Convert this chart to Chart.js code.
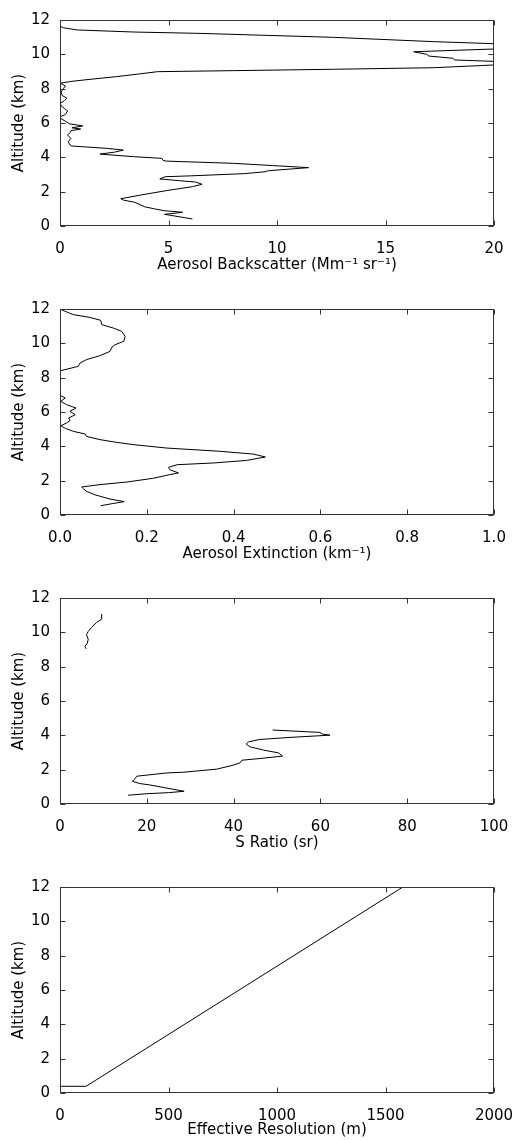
<!DOCTYPE html>
<html>
<head>
<meta charset="utf-8">
<script src="https://cdn.jsdelivr.net/npm/chart.js@4.4.1/dist/chart.umd.min.js"></script>
<style>
  html, body { margin: 0; padding: 0; background: #fff; overflow: hidden; }
  canvas { display: block; }
</style>
</head>
<body>
<canvas id="chart1" width="515" height="289"></canvas>
<canvas id="chart2" width="515" height="289"></canvas>
<canvas id="chart3" width="515" height="289"></canvas>
<canvas id="chart4" width="515" height="273"></canvas>
<script>
// Datos (altitud en km)
const bscAlt = [0.41, 0.68, 0.80, 0.89, 1.00, 1.12, 1.38, 1.51, 1.59, 1.80, 2.06, 2.29, 2.43, 2.56, 2.64, 2.74, 2.87, 2.92, 3.05, 3.16, 3.22, 3.40, 3.52, 3.65, 3.78, 3.82, 3.94, 4.04, 4.19, 4.30, 4.42, 4.52, 4.66, 4.72, 4.91, 5.10, 5.30, 5.44, 5.55, 5.65, 5.72, 5.83, 5.95, 6.10, 6.25, 6.35, 6.50, 6.70, 6.85, 7.00, 7.15, 7.30, 7.45, 7.60, 7.80, 8.00, 8.15, 8.32, 8.42, 8.52, 8.70, 8.85, 8.99, 9.05, 9.13, 9.22, 9.38, 9.48, 9.59, 9.67, 9.77, 9.90, 10.00, 10.15, 10.31, 10.45, 10.62, 10.74, 10.99, 11.22, 11.30, 11.42, 11.55, 11.65, 12.0];
const bscVal = [6.1, 4.82, 5.65, 4.8, 4.35, 3.9, 3.45, 2.92, 2.8, 3.7, 4.9, 6.1, 6.55, 6.25, 5.5, 4.6, 4.85, 6.0, 8.5, 9.45, 9.6, 11.45, 9.8, 8.0, 4.9, 4.75, 4.7, 3.38, 1.84, 2.5, 2.92, 2.2, 0.54, 0.46, 0.38, 0.5, 0.35, 0.46, 0.5, 0.95, 0.55, 1.05, 0.45, 0.25, 0.05, 0.0, 0.25, 0.35, 0.2, 0.05, 0.02, 0.2, 0.32, 0.1, 0.05, 0.15, 0.25, 0.03, 0.5, 1.2, 2.6, 3.6, 4.5, 8.0, 12.6, 17.2, 20.0, 23.0, 20.0, 18.2, 18.1, 17.0, 16.9, 16.3, 20.0, 24.0, 20.0, 17.2, 12.6, 6.45, 3.4, 0.8, 0.15, 0.0, 0.0];

const extAlt = [0.54, 0.66, 0.78, 0.93, 1.18, 1.38, 1.53, 1.63, 1.77, 1.92, 2.14, 2.35, 2.45, 2.64, 2.78, 2.93, 3.03, 3.18, 3.38, 3.55, 3.71, 3.90, 4.10, 4.23, 4.39, 4.58, 4.72, 4.87, 5.05, 5.20, 5.36, 5.50, 5.65, 5.84, 6.04, 6.23, 6.43, 6.62, 6.82, 6.95, 7.2, 8.2, 8.40, 8.66, 8.85, 9.05, 9.28, 9.53, 9.79, 9.92, 10.12, 10.41, 10.70, 10.89, 11.09, 11.34, 11.51, 11.67, 11.86, 12.0];
const extVal = [0.094, 0.12, 0.148, 0.115, 0.08, 0.061, 0.054, 0.05, 0.092, 0.154, 0.215, 0.253, 0.273, 0.253, 0.25, 0.27, 0.353, 0.43, 0.473, 0.445, 0.369, 0.246, 0.169, 0.131, 0.092, 0.061, 0.058, 0.031, 0.012, 0.002, 0.015, 0.023, 0.02, 0.035, 0.023, 0.037, 0.015, 0.002, 0.012, 0.002, 0, 0, 0.002, 0.042, 0.046, 0.061, 0.092, 0.115, 0.12, 0.127, 0.147, 0.15, 0.142, 0.123, 0.096, 0.094, 0.069, 0.031, 0.012, 0];

const sAltBajo = [0.51, 0.60, 0.66, 0.74, 1.11, 1.19, 1.32, 1.48, 1.62, 1.81, 1.85, 2.03, 2.26, 2.40, 2.55, 2.65, 2.79, 2.98, 3.14, 3.33, 3.49, 3.62, 3.76, 3.88, 4.01, 4.07, 4.17, 4.31];
const sValBajo = [15.7, 20.0, 25.0, 28.6, 20.7, 18.4, 16.7, 17.3, 17.7, 24.6, 28.4, 36.1, 39.9, 41.5, 41.9, 46.1, 51.3, 50.3, 46.9, 43.8, 42.9, 43.4, 46.1, 53.0, 62.2, 60.5, 59.9, 49.0];
const sAltAlto = [9.04, 9.18, 9.37, 9.60, 9.86, 10.05, 10.29, 10.58, 10.77, 11.07];
const sValAlto = [6.0, 5.76, 6.3, 6.5, 6.1, 6.5, 7.3, 8.45, 9.6, 9.6];

const resAlt = [0.39, 0.39, 12.0];
const resVal = [0, 120, 1580];

const altTicks = [0, 2, 4, 6, 8, 10, 12];

const fuente = { family: 'DejaVu Sans', size: 15 };

const puntos = (xs, ys) => xs.map((v, i) => ({ x: v, y: ys[i] }));

// Marco y ticks hacia adentro, estilo matplotlib
const marco = {
  id: 'marco',
  afterDatasetsDraw(chart) {
    const { ctx, chartArea: a, scales } = chart;
    ctx.save();
    ctx.strokeStyle = '#333';
    ctx.lineWidth = 1;
    const L = Math.round(a.left) + 0.5, R = Math.round(a.right) - 0.5;
    const T = Math.round(a.top) + 0.5, B = Math.round(a.bottom) - 0.5;
    ctx.strokeRect(L, T, R - L, B - T);
    ctx.beginPath();
    scales.x.ticks.forEach(t => {
      const px = Math.round(scales.x.getPixelForValue(t.value)) + 0.5;
      ctx.moveTo(px, B); ctx.lineTo(px, B - 5);
      ctx.moveTo(px, T); ctx.lineTo(px, T + 5);
    });
    scales.y.ticks.forEach(t => {
      const py = Math.round(scales.y.getPixelForValue(t.value)) + 0.5;
      ctx.moveTo(L, py); ctx.lineTo(L + 5, py);
      ctx.moveTo(R, py); ctx.lineTo(R - 5, py);
    });
    ctx.stroke();
    ctx.restore();
  }
};

function graficar(id, series, xmax, paso, tituloX, decimales, alto, padTitulo) {
  const ctx = document.getElementById(id).getContext('2d');
  new Chart(ctx, {
    type: 'scatter',
    data: {
      datasets: series.map(s => ({
        data: s,
        showLine: true,
        borderColor: '#000',
        borderWidth: 1,
        pointRadius: 0,
        tension: 0
      }))
    },
    options: {
      responsive: false,
      animation: false,
      devicePixelRatio: 1,
      layout: { padding: { top: 20, right: 21, left: 0, bottom: 0 } },
      plugins: { legend: { display: false }, tooltip: { enabled: false } },
      scales: {
        x: {
          type: 'linear',
          min: 0,
          max: xmax,
          afterFit: s => { s.height = alto - 226; s.paddingLeft = 0; s.paddingRight = 0; },
          grid: { display: false, drawTicks: false },
          border: { display: false },
          ticks: {
            stepSize: paso,
            padding: 14,
            color: '#000',
            font: fuente,
            maxRotation: 0,
            callback: v => decimales ? Number(v).toFixed(decimales) : v
          },
          title: { display: true, text: tituloX, color: '#000', font: fuente, padding: { top: 0, bottom: padTitulo } }
        },
        y: {
          type: 'linear',
          min: 0,
          max: 12,
          afterFit: s => { s.width = 60; s.paddingTop = 0; s.paddingBottom = 0; },
          afterBuildTicks: s => { s.ticks = altTicks.map(v => ({ value: v })); },
          grid: { display: false, drawTicks: false },
          border: { display: false },
          ticks: { padding: 10, color: '#000', font: fuente },
          title: { display: true, text: 'Altitude (km)', color: '#000', font: fuente, padding: { top: 10, bottom: 0 } }
        }
      }
    },
    plugins: [marco]
  });
}

graficar('chart1', [puntos(bscVal, bscAlt)], 20, 5, 'Aerosol Backscatter (Mm\u207B\u00B9 sr\u207B\u00B9)', 0, 289, 15);
graficar('chart2', [puntos(extVal, extAlt)], 1, 0.2, 'Aerosol Extinction (km\u207B\u00B9)', 1, 289, 15);
graficar('chart3', [puntos(sValBajo, sAltBajo), puntos(sValAlto, sAltAlto)], 100, 20, 'S Ratio (sr)', 0, 289, 15);
graficar('chart4', [puntos(resVal, resAlt)], 2000, 500, 'Effective Resolution (m)', 0, 273, 1);
</script>
</body>
</html>
